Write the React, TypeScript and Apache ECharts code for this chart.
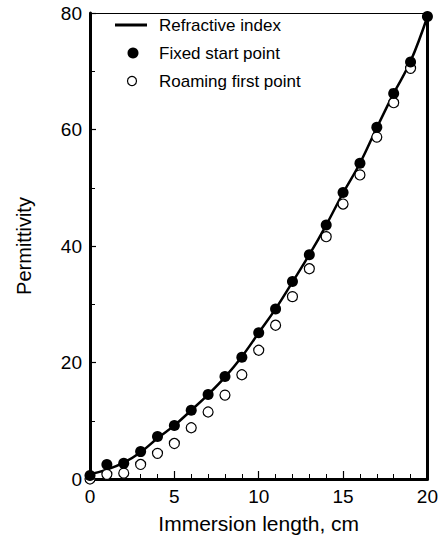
import React, { useEffect, useRef } from "react";
import * as echarts from "echarts";

const lengths = [0, 1, 2, 3, 4, 5, 6, 7, 8, 9, 10, 11, 12, 13, 14, 15, 16, 17, 18, 19, 20];
const refractiveIndex = [0.8, 1.6, 2.8, 4.6, 7.0, 9.2, 11.8, 14.5, 17.5, 21.0, 25.1, 29.2, 33.8, 38.5, 43.6, 49.1, 54.2, 60.3, 66.2, 71.7, 79.4];
const fixedStart = [0.6, 2.5, 2.7, 4.7, 7.3, 9.2, 11.8, 14.5, 17.6, 20.9, 25.1, 29.2, 33.9, 38.5, 43.6, 49.2, 54.2, 60.4, 66.2, 71.6, 79.4];
const roamingFirst = [0.0, 0.8, 1.0, 2.5, 4.4, 6.1, 8.8, 11.5, 14.4, 17.9, 22.1, 26.4, 31.3, 36.1, 41.6, 47.2, 52.2, 58.7, 64.6, 70.5];
const legendLabels = ["Refractive index", "Fixed start point", "Roaming first point"];

const FONT = "'Liberation Sans', Arial, Helvetica, sans-serif";

export default function App() {
  const ref = useRef<HTMLDivElement>(null);
  useEffect(() => {
    if (!ref.current) return;
    const chart = echarts.init(ref.current, null, { renderer: "svg" });
    const pair = (ys: number[]) => ys.map((y, i) => [lengths[i], y]);
    chart.setOption({
      animation: false,
      backgroundColor: "#fff",
      grid: { left: 90, right: 11, top: 13, bottom: 71 },
      xAxis: [
        {
          type: "value",
          min: 0,
          max: 20,
          interval: 5,
          name: "Immersion length, cm",
          nameLocation: "middle",
          nameGap: 34,
          nameTextStyle: { fontFamily: FONT, fontSize: 21, color: "#000" },
          axisLine: { show: true, lineStyle: { color: "#000", width: 3 } },
          axisTick: { show: true, inside: true, length: 8, lineStyle: { color: "#000", width: 1.2 } },
          minorTick: { show: true, splitNumber: 5, length: 5, lineStyle: { color: "#000", width: 1 } },
          axisLabel: { fontFamily: FONT, fontSize: 19, color: "#000", margin: 8, hideOverlap: false, showMaxLabel: true, showMinLabel: true },
          splitLine: { show: false },
        },
        {
          type: "value",
          position: "top",
          min: 0,
          max: 20,
          axisLine: { show: true, onZero: false, lineStyle: { color: "#000", width: 1.2 } },
          axisTick: { show: false },
          axisLabel: { show: false },
          splitLine: { show: false },
        },
      ],
      yAxis: [
        {
          type: "value",
          min: 0,
          max: 80,
          interval: 20,
          name: "Permittivity",
          nameLocation: "middle",
          nameGap: 56,
          nameTextStyle: { fontFamily: FONT, fontSize: 20, color: "#000" },
          axisLine: { show: true, lineStyle: { color: "#000", width: 3 } },
          axisTick: { show: true, inside: true, length: 6, lineStyle: { color: "#000", width: 1.2 } },
          minorTick: { show: true, splitNumber: 2, length: 5, lineStyle: { color: "#000", width: 1 } },
          axisLabel: { fontFamily: FONT, fontSize: 19, color: "#000", margin: 8 },
          splitLine: { show: false },
        },
        {
          type: "value",
          position: "right",
          min: 0,
          max: 80,
          axisLine: { show: true, onZero: false, lineStyle: { color: "#000", width: 3 } },
          axisTick: { show: false },
          axisLabel: { show: false },
          splitLine: { show: false },
        },
      ],
      series: [
        {
          name: legendLabels[0],
          type: "line",
          smooth: 0.4,
          showSymbol: false,
          data: pair(refractiveIndex),
          lineStyle: { color: "#000", width: 2.5 },
          z: 2,
        },
        {
          name: legendLabels[2],
          type: "scatter",
          data: pair(roamingFirst),
          symbol: "circle",
          symbolSize: 10,
          itemStyle: { color: "#fff", borderColor: "#000", borderWidth: 1.2, opacity: 1 },
          z: 3,
        },
        {
          name: legendLabels[1],
          type: "scatter",
          data: pair(fixedStart),
          symbol: "circle",
          symbolSize: 11,
          itemStyle: { color: "#000", opacity: 1 },
          z: 4,
        },
      ],
      graphic: [
        { type: "line", shape: { x1: 115, y1: 25, x2: 147, y2: 25 }, style: { stroke: "#000", lineWidth: 3 } },
        { type: "circle", shape: { cx: 133, cy: 53, r: 5.5 }, style: { fill: "#000" } },
        { type: "circle", shape: { cx: 132, cy: 81, r: 4.5 }, style: { fill: "#fff", stroke: "#000", lineWidth: 1.2 } },
        { type: "text", x: 159, y: 25, style: { text: legendLabels[0], fontFamily: FONT, fontSize: 17, fill: "#000", verticalAlign: "middle" } },
        { type: "text", x: 159, y: 53, style: { text: legendLabels[1], fontFamily: FONT, fontSize: 17, fill: "#000", verticalAlign: "middle" } },
        { type: "text", x: 159, y: 81, style: { text: legendLabels[2], fontFamily: FONT, fontSize: 17, fill: "#000", verticalAlign: "middle" } },
      ],
    });
    return () => chart.dispose();
  }, []);
  return <div ref={ref} style={{ position: "fixed", left: 0, top: 0, width: 441, height: 550 }} />;
}
